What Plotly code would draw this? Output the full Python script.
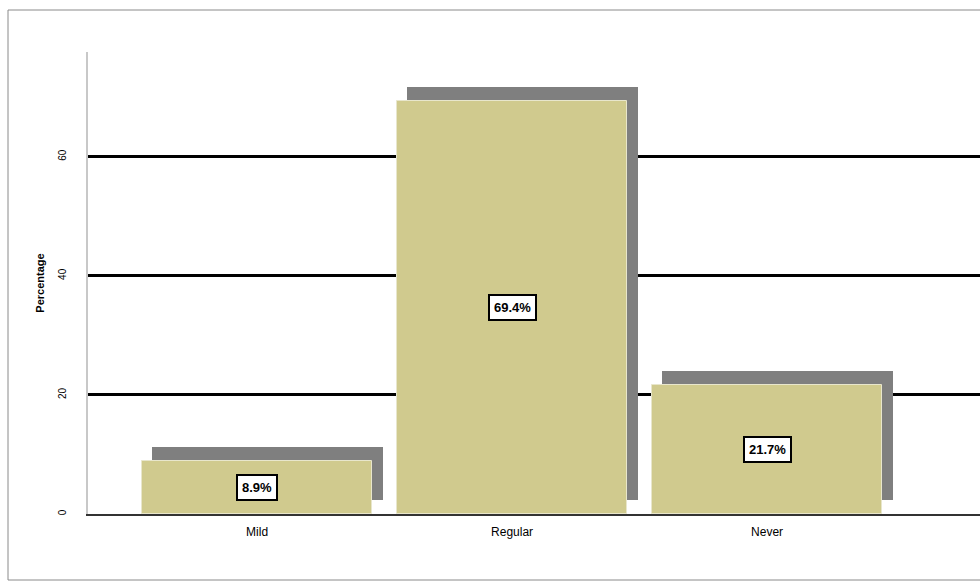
import plotly.graph_objects as go

categories = ["Mild", "Regular", "Never"]
values = [8.9, 69.4, 21.7]
value_labels = ["8.9%", "69.4%", "21.7%"]
y_ticks = [0, 20, 40, 60]

W, H = 980, 585
L, R, T, B = 88, 0, 52, 71
plot_w = W - L - R
plot_h = H - T - B

bar_w = 0.905
shadow_dx = 0.04
shadow_base = 2.4

fig = go.Figure()
# shadow bars
fig.add_trace(go.Bar(
    x=categories, y=values, base=shadow_base,
    width=bar_w, offset=-bar_w / 2 + shadow_dx,
    marker=dict(color="#7f7f7f", line=dict(width=0)),
    hoverinfo="skip", showlegend=False,
))
# front bars
fig.add_trace(go.Bar(
    x=categories, y=values,
    width=bar_w, offset=-bar_w / 2,
    marker=dict(color="#d0ca8e", line=dict(color="#e8e6cc", width=1)),
    showlegend=False,
))

for c, v, t in zip(categories, values, value_labels):
    fig.add_annotation(
        x=c, y=v / 2, text="<b>" + t + "</b>", showarrow=False,
        font=dict(family="Liberation Sans, Arial", size=13, color="black"),
        bgcolor="white", bordercolor="black", borderwidth=2, borderpad=4,
    )

fig.update_layout(
    width=W, height=H,
    margin=dict(l=L, r=R, t=T, b=B),
    paper_bgcolor="white", plot_bgcolor="white",
    barmode="overlay", bargap=0,
    font=dict(family="Liberation Sans, Arial", size=11, color="black"),
    xaxis=dict(
        type="category", range=[-0.663, 2.835],
        showgrid=False, showline=True, linecolor="#333333", linewidth=2,
        ticks="", tickfont=dict(size=12), zeroline=False,
        ticklabelstandoff=6,
    ),
    yaxis=dict(
        range=[0, 77.6], tickvals=y_ticks, ticktext=[str(v) for v in y_ticks],
        showgrid=True, gridcolor="black", gridwidth=3,
        showline=True, linecolor="#c8c8c8", linewidth=2,
        tickangle=-90, tickfont=dict(size=10), zeroline=False,
        ticklabelstandoff=16,
        title=dict(text="<b>Percentage</b>", font=dict(size=11), standoff=10),
    ),
    shapes=[dict(
        type="rect", xref="paper", yref="paper",
        x0=(8 - L) / plot_w, x1=1.02,
        y0=(H - B - 580) / plot_h, y1=(H - B - 10) / plot_h,
        line=dict(color="#8a8a8a", width=1), fillcolor="rgba(0,0,0,0)",
        layer="below",
    )],
)

fig.write_html("out.html")
